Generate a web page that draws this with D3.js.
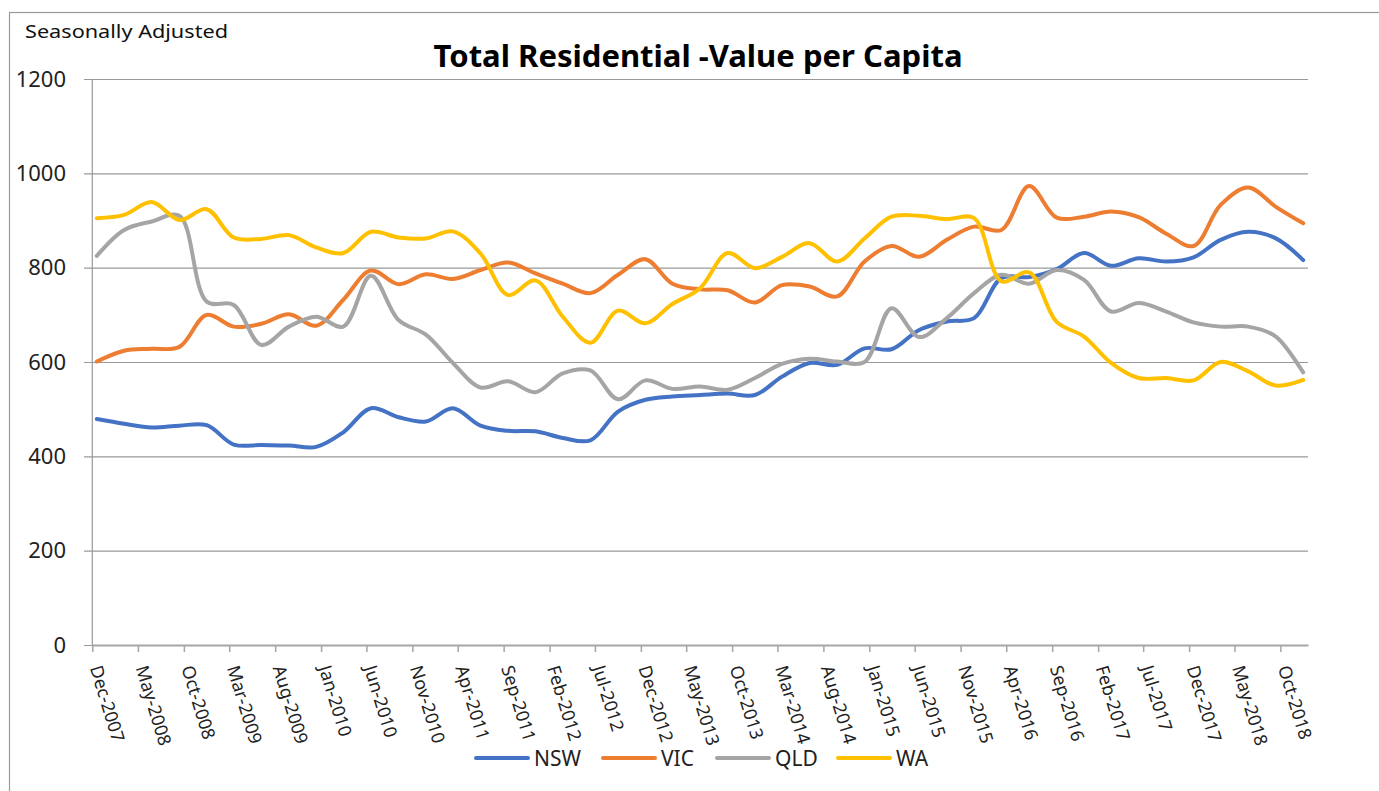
<!DOCTYPE html>
<html lang="en">
<head>
    <meta charset="UTF-8">
    <title>Total Residential -Value per Capita</title>
    <script src="https://cdnjs.cloudflare.com/ajax/libs/d3/7.8.5/d3.min.js"></script>
    <style>
        body {
            margin: 0;
            padding: 0;
            background-color: #ffffff;
            font-family: "Noto Sans", sans-serif;
        }
        .grid line {
            stroke: #999999;
            stroke-width: 1.2;
        }
        .tick text {
            fill: #222222;
        }
        .series {
            fill: none;
            stroke-width: 4;
            stroke-linecap: round;
            stroke-linejoin: round;
        }
    </style>
</head>
<body>
    <div id="chart"></div>

    <script>
        // quarterly observations, Dec-2007 .. Dec-2018
        const quarters = [
            "2007-12", "2008-03", "2008-06", "2008-09", "2008-12", "2009-03", "2009-06", "2009-09",
            "2009-12", "2010-03", "2010-06", "2010-09", "2010-12", "2011-03", "2011-06", "2011-09",
            "2011-12", "2012-03", "2012-06", "2012-09", "2012-12", "2013-03", "2013-06", "2013-09",
            "2013-12", "2014-03", "2014-06", "2014-09", "2014-12", "2015-03", "2015-06", "2015-09",
            "2015-12", "2016-03", "2016-06", "2016-09", "2016-12", "2017-03", "2017-06", "2017-09",
            "2017-12", "2018-03", "2018-06", "2018-09", "2018-12"
        ];

        const nsw = [479, 469, 461, 465, 466, 425, 424, 423, 420, 451, 502, 483, 474, 502, 465, 454,
                     453, 439, 434, 495, 520, 527, 530, 533, 530, 569, 598, 594, 629, 627, 668, 686,
                     693, 778, 780, 797, 831, 804, 820, 813, 822, 859, 876, 862, 816];
        const vic = [601, 624, 628, 632, 700, 675, 681, 701, 677, 732, 794, 765, 786, 776, 795, 811,
                     788, 766, 746, 785, 818, 766, 754, 752, 726, 763, 760, 739, 813, 846, 823, 859,
                     887, 880, 973, 906, 908, 919, 907, 872, 846, 933, 970, 929, 894];
        const qld = [825, 880, 898, 910, 728, 721, 636, 675, 696, 675, 783, 689, 658, 598, 546, 559,
                     536, 576, 582, 521, 561, 543, 548, 541, 566, 596, 607, 601, 600, 714, 653, 693,
                     746, 785, 766, 795, 774, 707, 725, 707, 684, 675, 675, 654, 578];
        const wa  = [905, 912, 939, 901, 924, 864, 861, 869, 843, 831, 876, 864, 862, 877, 830, 742,
                     773, 696, 641, 709, 682, 723, 756, 831, 799, 823, 852, 813, 862, 908, 910, 903,
                     905, 771, 790, 685, 654, 598, 566, 566, 561, 600, 580, 550, 562];

        const seriesNames = ["NSW", "VIC", "QLD", "WA"];
        const seriesValues = [nsw, vic, qld, wa];
        const seriesColors = ["#4472C4", "#ED7D31", "#A5A5A5", "#FFC000"];

        const yTicks = [0, 200, 400, 600, 800, 1000, 1200];

        const width = 1379;
        const height = 791;
        const plot = {left: 92.3, right: 1308, top: 79, bottom: 645};

        const svg = d3.select("#chart")
            .append("svg")
            .attr("width", width)
            .attr("height", height);

        // chart frame (only top / left edge are visible in the picture)
        svg.append("rect")
            .attr("x", 9.5).attr("y", 12.5)
            .attr("width", 1500).attr("height", 900)
            .attr("fill", "none")
            .attr("stroke", "#9a9a9a")
            .attr("stroke-width", 1.2);

        // data points sit in the middle of their month (date axis, between tick marks)
        const parseQ = d3.timeParse("%Y-%m");
        const dates = quarters.map(q => d3.timeDay.offset(parseQ(q), 15));

        const x = d3.scaleTime()
            .domain([new Date(2007, 11, 1), new Date(2019, 0, 1)])
            .range([plot.left, plot.right]);

        const y = d3.scaleLinear()
            .domain([0, 1200])
            .range([plot.bottom, plot.top]);

        // horizontal grid + y labels
        const yAxis = svg.append("g")
            .attr("class", "grid")
            .attr("transform", `translate(${plot.right},0)`)
            .call(d3.axisLeft(y)
                .tickValues(yTicks)
                .tickSize(plot.right - 84)
                .tickPadding(18)
                .tickFormat(d3.format("d")));
        yAxis.select(".domain").remove();
        yAxis.selectAll("text")
            .attr("font-family", "Noto Sans")
            .attr("font-size", 22);

        // vertical axis line
        svg.append("line")
            .attr("x1", plot.left).attr("x2", plot.left)
            .attr("y1", plot.top).attr("y2", plot.bottom)
            .attr("stroke", "#999999")
            .attr("stroke-width", 1.2);

        // x axis
        const xTicks = d3.timeMonth.range(new Date(2007, 11, 1), new Date(2018, 11, 1), 5);
        const xAxis = svg.append("g")
            .attr("transform", `translate(0,${plot.bottom})`)
            .call(d3.axisBottom(x)
                .tickValues(xTicks)
                .tickSize(7)
                .tickSizeOuter(0)
                .tickFormat(d3.timeFormat("%b-%Y")));
        xAxis.select(".domain")
            .attr("stroke", "#a6a6a6")
            .attr("stroke-width", 2);
        xAxis.selectAll(".tick line")
            .attr("stroke", "#a6a6a6")
            .attr("stroke-width", 1.5);
        xAxis.selectAll(".tick text")
            .attr("font-family", "Noto Sans")
            .attr("font-size", 18)
            .attr("x", 0)
            .attr("y", 0)
            .attr("dy", "0.35em")
            .attr("text-anchor", "start")
            .attr("transform", "translate(3,21) rotate(73)");

        // lines (Excel-style smoothing)
        const line = d3.line()
            .x((d, i) => x(dates[i]))
            .y(d => y(d))
            .curve(d3.curveCatmullRom.alpha(0.5));

        svg.append("g")
            .selectAll("path")
            .data(seriesValues)
            .enter().append("path")
            .attr("class", "series")
            .attr("stroke", (d, i) => seriesColors[i])
            .attr("d", d => line(d));

        // titles
        svg.append("text")
            .attr("x", 25)
            .attr("y", 38)
            .attr("font-family", "Noto Sans")
            .attr("font-size", 18)
            .attr("fill", "#111")
            .attr("textLength", 203)
            .attr("lengthAdjust", "spacingAndGlyphs")
            .text("Seasonally Adjusted");

        svg.append("text")
            .attr("x", 698)
            .attr("y", 67)
            .attr("text-anchor", "middle")
            .attr("font-family", "Noto Sans")
            .attr("font-weight", "bold")
            .attr("font-size", 30)
            .attr("fill", "#000")
            .attr("textLength", 529)
            .attr("lengthAdjust", "spacingAndGlyphs")
            .text("Total Residential -Value per Capita");

        // legend
        const legendX = [476, 603, 717, 838];
        const legend = svg.append("g")
            .selectAll("g")
            .data(seriesNames)
            .enter().append("g")
            .attr("transform", (d, i) => `translate(${legendX[i]},758)`);

        legend.append("line")
            .attr("x1", 0).attr("x2", 52)
            .attr("y1", 0).attr("y2", 0)
            .attr("stroke", (d, i) => seriesColors[i])
            .attr("stroke-width", 4)
            .attr("stroke-linecap", "round");

        legend.append("text")
            .attr("x", 58)
            .attr("y", 0)
            .attr("dy", "0.36em")
            .attr("font-family", "Noto Sans")
            .attr("font-size", 21)
            .attr("fill", "#222")
            .text(d => d);
    </script>
</body>
</html>
